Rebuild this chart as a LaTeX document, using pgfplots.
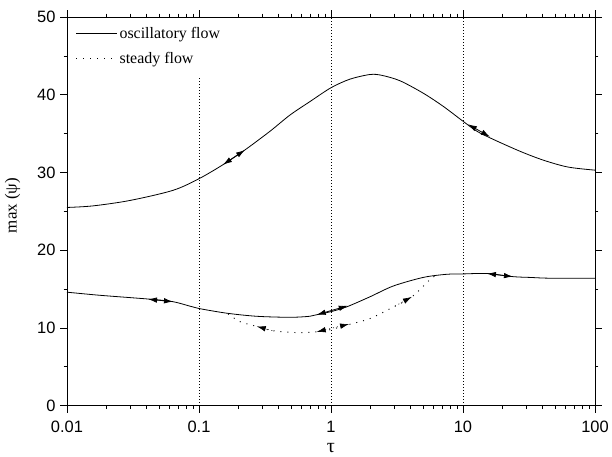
\documentclass[border=0pt]{standalone}
\usepackage{pgfplots}
\pgfplotsset{compat=1.18}
\usepackage{fontspec}
\setmainfont{Liberation Serif}
\newfontfamily\arial{Liberation Sans}
\usetikzlibrary{arrows.meta}
\tikzset{arr/.style={{Latex[length=9bp,width=5.5bp]}-{Latex[length=9bp,width=5.5bp]}},
         sarr/.style={-{Latex[length=9bp,width=5.5bp]}}}
\begin{document}
\begin{tikzpicture}
\begin{axis}[
  scale only axis, width=528bp, height=388.7bp,
  xmode=log, xmin=0.01, xmax=100, ymin=0, ymax=50,
  xtick={0.01,0.1,1,10,100}, xticklabels={0.01,0.1,1,10,100},
  ytick={0,10,20,30,40,50}, minor ytick={5,15,25,35,45},
  /pgf/number format/assume math mode=true,
  tick label style={font=\arial\fontsize{16.5}{18}\selectfont},
  tick align=outside, major tick length=7bp, minor tick length=3.5bp,
  every tick/.style={black, line width=0.7bp},
  axis line style={line width=0.8bp},
  xticklabel style={yshift=-5bp},
  yticklabel style={xshift=-1bp},
  xlabel={τ}, ylabel={max (ψ)},
  label style={font=\fontsize{17}{20}\selectfont},
  xlabel style={at={(axis description cs:0.5,-0.109)}, anchor=center, font=\fontsize{20}{22}\selectfont},
  ylabel style={at={(axis description cs:-0.103,0.515)}, anchor=center},
  legend style={at={(axis description cs:0.0,1.0)}, anchor=north west, draw=none, fill=none,
    xshift=5.5bp, yshift=-6bp,
    font=\fontsize{16}{18}\selectfont, row sep=8bp},
  legend cell align=left,
  legend image code/.code={\draw[#1] (0bp,0bp) -- (41bp,0bp);},
]
\addlegendimage{black, line width=0.8bp}
\addlegendentry{oscillatory flow}
\addlegendimage{black, line width=0.9bp, dash pattern=on 1bp off 6bp}
\addlegendentry{steady flow}

% vertical dotted reference lines
\addplot[black, line width=0.7bp, dash pattern=on 1bp off 2bp, forget plot] coordinates {(0.1,0) (0.1,42.4)};
\addplot[black, line width=0.7bp, dash pattern=on 1bp off 2bp, forget plot] coordinates {(1,0) (1,50)};
\addplot[black, line width=0.7bp, dash pattern=on 1bp off 2bp, forget plot] coordinates {(10,0) (10,50)};

% upper oscillatory branch
\addplot[black, line width=0.8bp, smooth, forget plot] coordinates {
(0.01,25.5) (0.0157,25.7) (0.030,26.4) (0.0635,27.7) (0.1,29.2) (0.152,31.0) (0.223,32.9)
(0.345,35.3) (0.49,37.4) (0.69,39.1) (1.0,40.9) (1.39,42.0) (1.97,42.6) (2.42,42.5)
(3.33,41.8) (5.0,40.2) (7.1,38.5) (10,36.6) (13.4,35.1) (25.6,32.9)
(40.4,31.6) (62.4,30.7) (100,30.3)};

% lower oscillatory branch
\addplot[black, line width=0.8bp, smooth, forget plot] coordinates {
(0.01,14.6) (0.0178,14.2) (0.0426,13.7) (0.0635,13.38) (0.0855,12.8) (0.1,12.5) (0.162,11.9)
(0.274,11.5) (0.49,11.37) (0.69,11.5) (0.78,11.7) (1.0,12.1) (1.31,12.7) (1.97,14.0)
(2.97,15.4) (5.0,16.5) (7.5,16.9) (10,16.95) (15.2,17.0) (23.9,16.6) (32.2,16.5)
(45.6,16.4) (100,16.4)};

% steady flow branch
\addplot[black, line width=0.9bp, dash pattern=on 1bp off 6bp, smooth, forget plot] coordinates {
(0.166,11.8) (0.205,10.8) (0.274,10.2) (0.36,9.65) (0.55,9.4) (0.78,9.5) (1.0,9.8)
(1.34,10.4) (1.97,11.2) (2.97,12.7) (4.1,14.0) (5.6,16.2) (6.3,16.8)};

% arrows
\addplot[black, line width=0.8bp, arr, forget plot] coordinates {(0.152,31.0) (0.223,32.9)};
\addplot[black, line width=0.8bp, arr, forget plot] coordinates {(10.9,36.2) (16.0,34.6)};
\addplot[black, line width=0.8bp, arr, forget plot] coordinates {(0.0411,13.7) (0.0635,13.38)};
\addplot[black, line width=0.8bp, arr, forget plot] coordinates {(0.78,11.7) (1.34,12.85)};
\addplot[black, line width=0.8bp, arr, forget plot] coordinates {(15.2,17.0) (23.9,16.6)};
\addplot[black, line width=0.6bp, dash pattern=on 1bp off 3bp, arr, forget plot] coordinates {(0.78,9.5) (1.37,10.5)};
\addplot[black, line width=0.6bp, dash pattern=on 1bp off 3bp, sarr, forget plot] coordinates {(0.36,9.65) (0.274,10.2)};
\addplot[black, line width=0.6bp, dash pattern=on 1bp off 3bp, sarr, forget plot] coordinates {(3.05,12.8) (4.1,14.0)};
\end{axis}
\path (current axis.south west) ++(-67bp,-50.3bp) rectangle ++(612bp,456bp);
\end{tikzpicture}
\end{document}
